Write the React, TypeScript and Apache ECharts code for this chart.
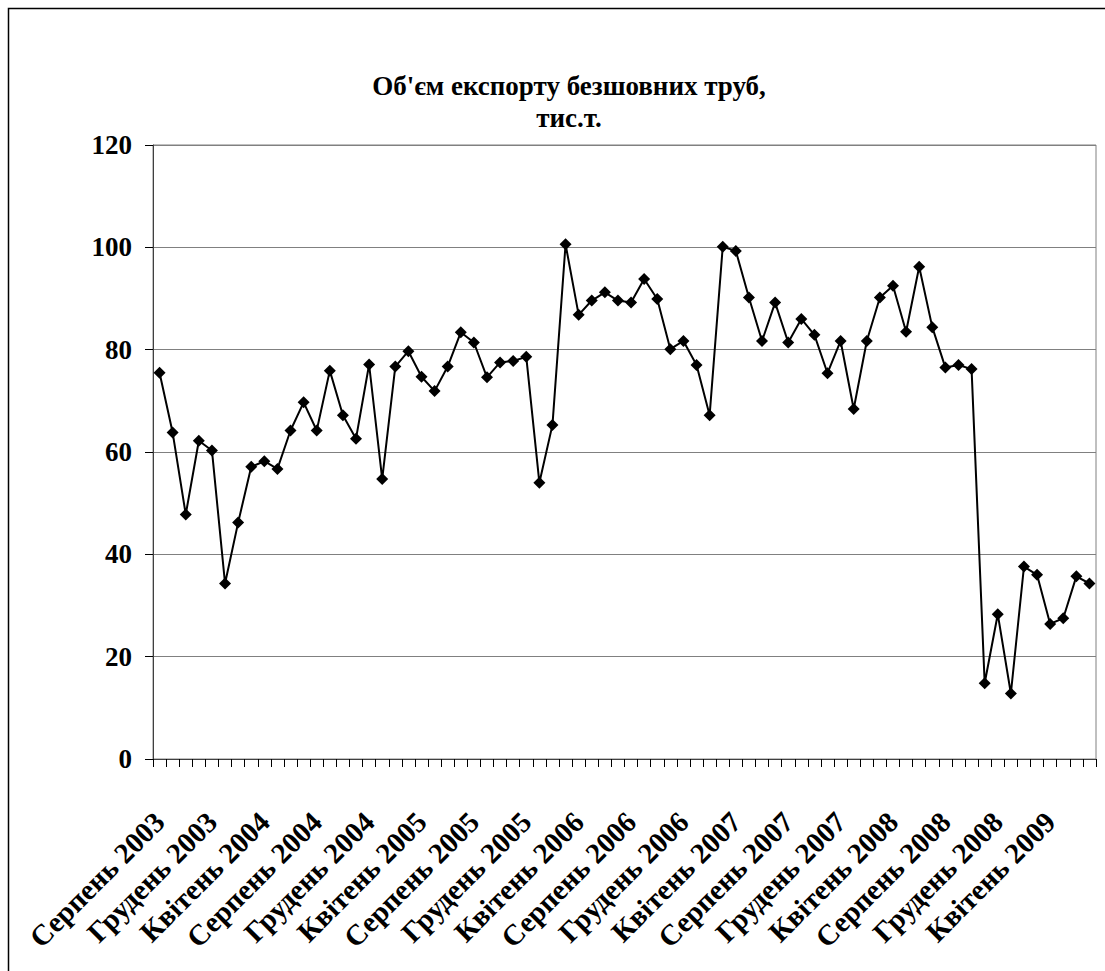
import React, { useEffect, useRef } from "react";
import * as echarts from "echarts";

const TITLE = "Об'єм експорту безшовних труб,\nтис.т.";
const MONTH_NAMES = [
  "Січень", "Лютий", "Березень", "Квітень", "Травень", "Червень",
  "Липень", "Серпень", "Вересень", "Жовтень", "Листопад", "Грудень",
];
const START_YEAR = 2003;
const START_MONTH_INDEX = 7; // Серпень
const MONTH_COUNT = 72;

const categories: string[] = [];
for (let i = 0; i < MONTH_COUNT; i++) {
  const m = (START_MONTH_INDEX + i) % 12;
  const y = START_YEAR + Math.floor((START_MONTH_INDEX + i) / 12);
  categories.push(MONTH_NAMES[m] + " " + y);
}

const exportVolume = [
  75.5, 63.8, 47.8, 62.2, 60.3, 34.3, 46.2, 57.1, 58.2, 56.7,
  64.2, 69.7, 64.2, 75.9, 67.2, 62.6, 77.1, 54.7, 76.7, 79.7,
  74.7, 71.9, 76.7, 83.4, 81.4, 74.6, 77.5, 77.8, 78.6, 54.0,
  65.3, 100.6, 86.8, 89.6, 91.2, 89.6, 89.2, 93.8, 89.9, 80.1,
  81.7, 77.0, 67.2, 100.1, 99.3, 90.2, 81.7, 89.2, 81.4, 86.0,
  82.9, 75.4, 81.7, 68.4, 81.7, 90.2, 92.5, 83.5, 96.2, 84.4,
  76.5, 77.0, 76.2, 14.8, 28.3, 12.8, 37.6, 36.0, 26.4, 27.5,
  35.7, 34.3,
];

const Y_MIN = 0;
const Y_MAX = 120;
const Y_STEP = 20;

const FONT = "'Liberation Serif', 'Times New Roman', serif";

export default function App() {
  const ref = useRef<HTMLDivElement>(null);
  useEffect(() => {
    if (!ref.current) return;
    const chart = echarts.init(ref.current, null, { renderer: "svg" });
    chart.setOption({
      animation: false,
      backgroundColor: "#ffffff",
      title: {
        text: TITLE,
        left: 569,
        top: 70,
        padding: 0,
        textAlign: "center",
        textStyle: {
          fontFamily: FONT,
          fontWeight: "bold",
          fontSize: 27,
          lineHeight: 32,
          color: "#000",
        },
      },
      graphic: [
        {
          type: "rect",
          shape: { x: 8.5, y: 8.5, width: 1300, height: 1300 },
          style: { fill: "none", stroke: "#000", lineWidth: 1.5 },
          silent: true,
          z: 100,
        },
      ],
      grid: {
        left: 153,
        right: 9,
        top: 145,
        bottom: 212,
        show: true,
        borderColor: "#808080",
        borderWidth: 1,
        backgroundColor: "transparent",
      },
      xAxis: {
        type: "category",
        data: categories,
        boundaryGap: true,
        axisLine: { show: true, lineStyle: { color: "#404040", width: 1 } },
        axisTick: {
          show: true,
          interval: 0,
          length: 8,
          lineStyle: { color: "#000", width: 1 },
        },
        axisLabel: {
          interval: 3,
          rotate: 45,
          margin: 58,
          fontFamily: FONT,
          fontWeight: "bold",
          fontSize: 29,
          color: "#000",
        },
        splitLine: { show: false },
      },
      yAxis: {
        type: "value",
        min: Y_MIN,
        max: Y_MAX,
        interval: Y_STEP,
        axisLine: { show: true, lineStyle: { color: "#404040", width: 1 } },
        axisTick: { show: true, length: 8, lineStyle: { color: "#000", width: 1 } },
        axisLabel: {
          margin: 21,
          fontFamily: FONT,
          fontWeight: "bold",
          fontSize: 27,
          color: "#000",
        },
        splitLine: { show: true, lineStyle: { color: "#808080", width: 1 } },
      },
      series: [
        {
          type: "line",
          data: exportVolume,
          symbol: "diamond",
          symbolSize: 12,
          showSymbol: true,
          showAllSymbol: true,
          lineStyle: { color: "#000", width: 2 },
          itemStyle: { color: "#000" },
        },
      ],
    });
    return () => chart.dispose();
  }, []);
  return (
    <div
      ref={ref}
      style={{ position: "fixed", left: 0, top: 0, width: 1105, height: 971 }}
    />
  );
}
